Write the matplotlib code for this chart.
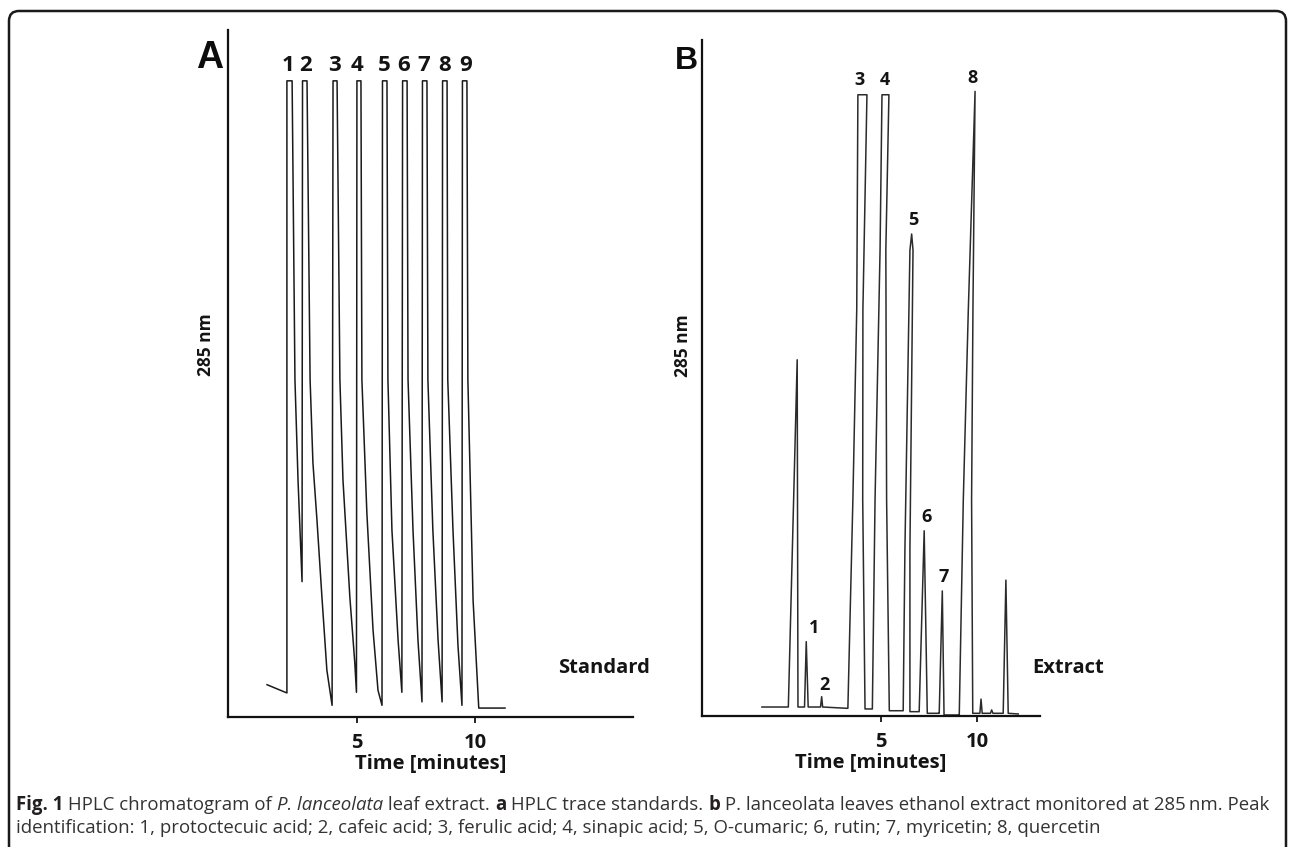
import matplotlib
matplotlib.use("Agg")
import matplotlib.pyplot as plt
from matplotlib.patches import FancyBboxPatch
from matplotlib.transforms import IdentityTransform
from matplotlib import font_manager as fm

# ---------------- data ----------------
# Panel A: HPLC trace of standards (time [min], signal [% of axis height])
std_time = [1.21, 2.05, 2.05, 2.27, 2.39, 2.52, 2.69, 2.71, 2.90, 3.03, 3.15, 3.32,
            3.53, 3.74, 3.96, 4.00, 4.17, 4.29, 4.42, 4.71, 4.92, 4.99, 5.01, 5.18,
            5.22, 5.43, 5.69, 5.90, 6.07, 6.09, 6.28, 6.32, 6.49, 6.75, 6.91, 6.94,
            7.13, 7.17, 7.38, 7.59, 7.76, 7.78, 7.97, 8.01, 8.22, 8.44, 8.61, 8.63,
            8.82, 8.85, 9.07, 9.28, 9.45, 9.47, 9.66, 9.70, 9.92, 10.16, 11.27]
std_signal = [4.7, 3.5, 92.6, 92.6, 49.1, 34.5, 19.7, 92.6, 92.6, 49.1, 37.0, 28.7,
              17.5, 6.8, 1.7, 92.6, 92.6, 49.1, 34.5, 17.5, 7.9, 3.6, 92.6, 92.6,
              49.1, 29.7, 12.7, 3.9, 1.7, 92.6, 92.6, 49.1, 27.2, 11.2, 3.6, 92.6,
              92.6, 49.1, 27.2, 11.2, 2.2, 92.6, 92.6, 49.1, 27.2, 11.2, 2.2, 92.6,
              92.6, 49.1, 27.2, 10.5, 1.7, 92.6, 92.6, 49.1, 17.0, 1.3, 1.3]
std_peak_ids = ["1", "2", "3", "4", "5", "6", "7", "8", "9"]
std_peak_time = [2.10, 2.82, 4.08, 5.01, 6.15, 6.99, 7.84, 8.73, 9.62]
std_peak_label_y = [94.9, 94.9, 94.9, 94.9, 94.9, 94.9, 94.9, 94.9, 94.9]

# Panel B: P. lanceolata extract trace (time [min], signal [% of axis height])
ext_time = [-1.18, 0.19, 0.65, 0.69, 1.03, 1.12, 1.22, 1.86, 1.92, 1.97, 3.22,
            3.28, 3.54, 3.74, 3.80, 4.27, 4.06, 4.05, 4.17, 4.55, 4.69, 4.95, 5.05,
            5.41, 5.25, 5.29, 5.43, 6.02, 6.15, 6.24, 6.50, 6.59, 6.66, 6.50, 6.50,
            6.93, 6.98, 7.24, 7.40, 7.97, 8.02, 8.18, 8.27, 9.01, 9.06, 9.27, 9.53,
            9.88, 9.77, 9.70, 9.76, 10.13, 10.19, 10.25, 10.68, 10.74, 10.81, 11.34,
            11.48, 11.60, 12.12]
ext_signal = [1.33, 1.33, 52.7, 1.33, 1.33, 11.0, 1.33, 1.33, 2.86, 1.33, 1.14,
              1.14, 32.0, 60.1, 91.9, 91.9, 60.1, 32.0, 1.04, 1.04, 32.0, 68.9, 91.9,
              91.9, 68.9, 32.0, 0.78, 0.78, 0.78, 24.6, 68.9, 71.3, 68.9, 24.6, 0.64,
              0.64, 0.64, 27.4, 0.40, 0.40, 0.40, 18.5, 0.15, 0.15, 0.15, 32.0, 60.1,
              92.4, 60.1, 32.0, 0.40, 0.40, 2.5, 0.40, 0.40, 0.9, 0.40, 0.40,
              20.1, 0.40, 0.30]
ext_peak_ids = ["1", "2", "3", "4", "5", "6", "7", "8"]
ext_peak_time = [1.52, 2.09, 3.90, 5.20, 6.65, 7.38, 8.27, 9.77]
ext_peak_label_y = [13.0, 4.6, 94.1, 94.1, 73.4, 29.4, 20.6, 94.4]

x_ticks = [5, 10]
x_tick_labels = ["5", "10"]
x_label = "Time [minutes]"
y_label = "285 nm"

caption_line1 = [("Fig. 1", "bold", "normal"), (" HPLC chromatogram of ", "normal", "normal"),
                 ("P. lanceolata", "normal", "italic"), (" leaf extract. ", "normal", "normal"),
                 ("a", "bold", "normal"), (" HPLC trace standards. ", "normal", "normal"),
                 ("b", "bold", "normal"),
                 (" P. lanceolata leaves ethanol extract monitored at 285\u2009nm. Peak", "normal", "normal")]
caption_line2 = [("identification: 1, protoctecuic acid; 2, cafeic acid; 3, ferulic acid; 4, sinapic acid; "
                  "5, O-cumaric; 6, rutin; 7, myricetin; 8, quercetin", "normal", "normal")]

# ---------------- figure ----------------
W, H = 1292, 847
fig = plt.figure(figsize=(W / 100, H / 100), dpi=100)
fig.patch.set_facecolor("white")

LABEL_FONT = ["Open Sans", "DejaVu Sans"]
LW = "bold"
INK = "#141414"


def px_axes(left, right, top, bottom):
    return fig.add_axes([left / W, (H - bottom) / H, (right - left) / W, (bottom - top) / H])


def style_axes(ax, xlim):
    ax.set_xlim(*xlim)
    ax.set_ylim(0, 100)
    for s in ("top", "right"):
        ax.spines[s].set_visible(False)
    for s in ("left", "bottom"):
        ax.spines[s].set_linewidth(1.6)
        ax.spines[s].set_color("#111111")
    ax.set_yticks([])
    ax.set_xticks(x_ticks)
    ax.set_xticklabels(x_tick_labels, fontsize=14.5, fontweight=LW, family=LABEL_FONT)
    ax.tick_params(axis="x", direction="out", length=4, width=1.3, pad=7.5, colors=INK)
    ax.set_xlabel(x_label, fontsize=14.5, fontweight=LW, family=LABEL_FONT,
                  labelpad=0.5, color=INK)
    ax.patch.set_alpha(0)


# Panel A
axA = px_axes(228, 633, 30, 717)
style_axes(axA, (-0.44, 16.68))
axA.plot(std_time, std_signal, color="#1a1a1a", lw=1.1, solid_joinstyle="round")
for pid, pt, py in zip(std_peak_ids, std_peak_time, std_peak_label_y):
    axA.text(pt, py, pid, ha="center", va="center", fontsize=16, fontweight=LW,
             family=LABEL_FONT, color=INK)

# Panel B
axB = px_axes(702, 1040, 40, 716)
style_axes(axB, (-4.29, 13.25))
axB.plot(ext_time, ext_signal, color="#2b2b2b", lw=1.1, solid_joinstyle="round")
for pid, pt, py in zip(ext_peak_ids, ext_peak_time, ext_peak_label_y):
    axB.text(pt, py, pid, ha="center", va="center", fontsize=13, fontweight=LW,
             family=LABEL_FONT, color=INK)

# panel letters, y labels, trace names
fig.text(209.5 / W, 1 - 58.5 / H, "A", ha="center", va="center", fontsize=27,
         fontweight="bold", family=["Liberation Sans", "DejaVu Sans"], color="#0d0d0d")
fig.text(686 / W, 1 - 61 / H, "B", ha="center", va="center", fontsize=23,
         fontweight="bold", family=["Liberation Sans", "DejaVu Sans"], color="#0d0d0d")
fig.text(206 / W, 1 - 345 / H, y_label, ha="center", va="center", rotation=90, fontsize=12.5,
         fontweight=LW, family=LABEL_FONT, color=INK)
fig.text(683 / W, 1 - 346 / H, y_label, ha="center", va="center", rotation=90, fontsize=12.5,
         fontweight=LW, family=LABEL_FONT, color=INK)
fig.text(558 / W, 1 - 668 / H, "Standard", ha="left", va="center", fontsize=14.5,
         fontweight=LW, family=LABEL_FONT, color=INK)
fig.text(1032 / W, 1 - 668 / H, "Extract", ha="left", va="center", fontsize=14.5,
         fontweight=LW, family=LABEL_FONT, color=INK)

# rounded frame
frame = FancyBboxPatch((9, -30), 1277, H - 11 + 30, boxstyle="round,pad=0,rounding_size=10",
                       transform=IdentityTransform(), fill=False, lw=1.8, edgecolor="#1a1a1a")
fig.add_artist(frame)

# caption
cap_fam = "DejaVu Sans"
for cand in ["Liberation Sans Narrow", "Open Sans", "DejaVu Sans"]:
    try:
        fm.findfont(fm.FontProperties(family=cand), fallback_to_default=False)
        cap_fam = cand
        break
    except Exception:
        pass

renderer = fig.canvas.get_renderer()


def piece_width(txt, size, weight, style):
    def w(s):
        t = fig.text(0, 0, s, fontsize=size, fontweight=weight, fontstyle=style, family=cap_fam)
        bb = t.get_window_extent(renderer)
        t.remove()
        return bb.width
    return w("|" + txt + "|") - w("||")


def draw_line(pieces, y_px, size):
    x = 16
    for txt, weight, style in pieces:
        fig.text(x / W, 1 - y_px / H, txt, ha="left", va="center", fontsize=size,
                 fontweight=weight, fontstyle=style, family=cap_fam,
                 color="#231f20" if weight == "bold" else "#333333")
        x += piece_width(txt, size, weight, style)


base = 10.0
total = sum(piece_width(t, base, w, s) for t, w, s in caption_line1)
cap_size = base * (1256 / total)
draw_line(caption_line1, 805, cap_size)
draw_line(caption_line2, 828, cap_size)

fig.savefig("out.png", dpi=100, facecolor="white")
